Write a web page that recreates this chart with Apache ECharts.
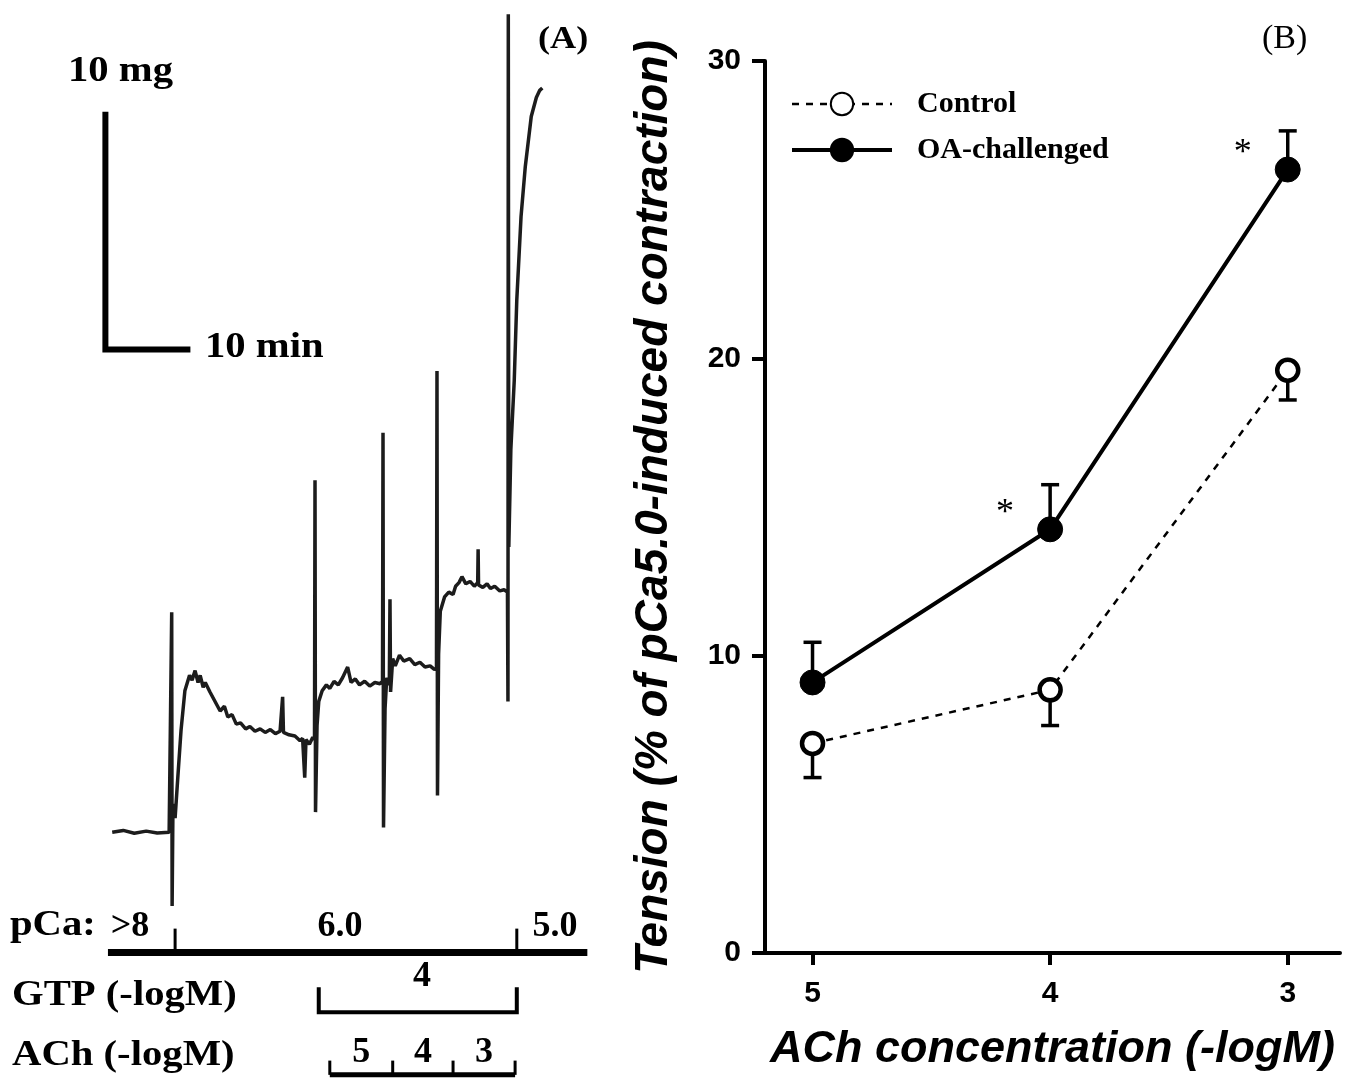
<!DOCTYPE html>
<html>
<head>
<meta charset="utf-8">
<script src="https://cdn.jsdelivr.net/npm/echarts@6.0.0/dist/echarts.min.js"></script>
<style>
html, body { margin: 0; padding: 0; background: #fff; }
#chart { width: 1347px; height: 1082px; }
</style>
</head>
<body>
<div id="chart"></div>
<script>
// ---- panel A : tension trace (min, mg above resting level) ----
const traceTime = [0.2, 1.5, 2.8, 4.2, 5.5, 6.9, 7.2, 7.25, 7.35, 7.6, 7.9, 8.3,
  8.75, 9.3, 9.6, 9.95, 10.3, 10.55, 10.9, 11.15, 11.7, 12.3, 12.9, 13.4,
  13.8, 14.3, 14.8, 15.3, 15.9, 16.4, 17.0, 17.6, 18.2, 18.8, 19.4, 19.95,
  20.25, 20.35, 21.0, 21.7, 22.3, 22.6, 22.85, 23.0, 23.4, 23.8, 24.0, 24.06,
  24.12, 24.3, 24.5, 24.9, 25.4, 25.8, 26.3, 26.8, 27.3, 27.9, 28.3, 28.8,
  29.3, 29.9, 30.5, 31.1, 31.7, 32.0, 32.06, 32.12, 32.3, 32.5, 32.8, 32.88,
  32.95, 33.2, 33.5, 34.0, 34.5, 35.2, 35.8, 36.4, 37.0, 37.6, 38.1, 38.35,
  38.41, 38.47, 38.6, 38.8, 39.3, 39.8, 40.3, 40.6, 41.0, 41.35, 41.8, 42.3,
  42.8, 43.2, 43.25, 43.3, 43.8, 44.3, 44.7, 45.2, 45.8, 46.3, 46.7, 46.76,
  46.8, 46.86, 47.1, 47.5, 47.8, 48.3, 48.8, 49.5, 50.1, 50.5, 50.8];
const traceTension = [0, 0.08, -0.04, 0.05, -0.03, 0, 9.25, -3.1, 1.2, 0.6, 2.2, 4.3,
  5.95, 6.6, 6.4, 6.8, 6.3, 6.6, 6.1, 6.3, 5.9, 5.5, 5.1, 5.3,
  4.85, 4.95, 4.55, 4.6, 4.35, 4.45, 4.25, 4.35, 4.2, 4.32, 4.15, 4.25,
  5.7, 4.2, 4.1, 4.05, 3.85, 3.95, 2.3, 3.9, 3.7, 4.0, 3.9, 14.8,
  0.85, 4.5, 5.5, 5.95, 6.2, 6.05, 6.35, 6.2, 6.5, 6.95, 6.3, 6.45,
  6.2, 6.35, 6.15, 6.3, 6.25, 6.35, 16.8, 0.2, 5.2, 6.5, 6.2, 9.8,
  5.9, 7.3, 7.0, 7.45, 7.2, 7.3, 7.05, 7.15, 6.95, 7.0, 6.85, 6.9,
  19.4, 1.55, 7.5, 9.3, 9.9, 10.1, 10.0, 10.35, 10.5, 10.75, 10.45, 10.55,
  10.35, 10.5, 11.9, 10.4, 10.3, 10.45, 10.25, 10.35, 10.15, 10.2, 10.1, 5.5,
  34.4, 12.0, 16.1, 19.0, 22.4, 25.9, 28.0, 30.1, 30.9, 31.2, 31.3];

// scale bar: corner point and lengths (10 min, 10 mg)
const scaleBarOrigin = [-0.6, 20.3];
const scaleBarSize = [10, 10];

// protocol bars under the trace (times in min, rows in mg units of the same axis)
const rowLevels = [-5.05, -7.57, -10.2];       // pCa, GTP, ACh
const pCaBarSpan = [-0.3, 56.1];
const pCaChangeTimes = [7.6, 47.8];
const pCaLabels = ['>8', '6.0', '5.0'];
const pCaLabelTimes = [2.3, 27.0, 52.3];
const gtpSpan = [24.5, 47.8];
const gtpLabel = '4';
const achAddTimes = [25.8, 33.2, 40.3, 47.6];
const achLabels = ['5', '4', '3'];

// ---- panel B : ACh dose response ----
const achConc = [5, 4, 3];
const controlMean = [7.05, 8.85, 19.6];
const controlSem = [1.15, 1.2, 1.0];
const oaMean = [9.1, 14.25, 26.35];
const oaSem = [1.35, 1.5, 1.3];
const significance = ['', '*', '*'];

const serif = 'Liberation Serif';
const sans = 'Liberation Sans';

var traceData = traceTime.map((t, i) => [t, traceTension[i]]);

var o = scaleBarOrigin;
var protoLines = [
  { coords: [[o[0], o[1] + scaleBarSize[1]], [o[0], o[1]], [o[0] + scaleBarSize[0], o[1]]], lineStyle: { width: 6 } },
  { coords: [[pCaBarSpan[0], rowLevels[0]], [pCaBarSpan[1], rowLevels[0]]], lineStyle: { width: 7 } },
  { coords: [[gtpSpan[0], rowLevels[1] + 1.05], [gtpSpan[0], rowLevels[1]], [gtpSpan[1], rowLevels[1]], [gtpSpan[1], rowLevels[1] + 1.05]], lineStyle: { width: 4 } },
  { coords: [[achAddTimes[0], rowLevels[2]], [achAddTimes[achAddTimes.length - 1], rowLevels[2]]], lineStyle: { width: 5 } }
];
pCaChangeTimes.forEach(t => {
  protoLines.push({ coords: [[t, rowLevels[0]], [t, rowLevels[0] + 1.0]], lineStyle: { width: 3 } });
});
achAddTimes.forEach(t => {
  protoLines.push({ coords: [[t, rowLevels[2]], [t, rowLevels[2] + 0.6]], lineStyle: { width: 3 } });
});

var protoText = pCaLabels.map((s, i) => ({ name: s, value: [pCaLabelTimes[i], rowLevels[0] + 1.1] }));
protoText.push({ name: gtpLabel, value: [(gtpSpan[0] + gtpSpan[1]) / 2 + 0.5, rowLevels[1] + 1.5] });
achLabels.forEach((s, i) => {
  protoText.push({ name: s, value: [(achAddTimes[i] + achAddTimes[i + 1]) / 2, rowLevels[2] + 0.95] });
});

function errorBar(params, api) {
  var x = api.value(0), y = api.value(1), e = api.value(2);
  var p0 = api.coord([x, y]);
  var p1 = api.coord([x, y + e]);
  var st = { stroke: '#000', lineWidth: 3.5 };
  return {
    type: 'group',
    children: [
      { type: 'line', shape: { x1: p0[0], y1: p0[1], x2: p1[0], y2: p1[1] }, style: st },
      { type: 'line', shape: { x1: p1[0] - 9, y1: p1[1], x2: p1[0] + 9, y2: p1[1] }, style: st }
    ]
  };
}

function word(text, x, y, font) {
  return { type: 'text', x: x, y: y, scaleX: 1.13, style: { text: text, font: font, fill: '#000' } };
}

var chart = echarts.init(document.getElementById('chart'));
chart.setOption({
  animation: false,
  backgroundColor: '#fff',
  grid: [
    { left: 0, top: 0, width: 595, height: 1082 },
    { left: 765, top: 61, width: 575, height: 892 }
  ],
  xAxis: [
    { gridIndex: 0, type: 'value', min: -13, max: 57, show: false },
    {
      gridIndex: 1, type: 'value', inverse: true, min: 2.78, max: 5.2,
      axisLine: { show: true, onZero: false, lineStyle: { color: '#000', width: 4 } },
      axisTick: { show: true, customValues: achConc, length: 12, lineStyle: { color: '#000', width: 4 } },
      axisLabel: { customValues: achConc, color: '#000', fontFamily: sans, fontWeight: 'bold', fontSize: 30, margin: 26 },
      splitLine: { show: false },
      name: 'ACh concentration (-logM)', nameLocation: 'middle', nameGap: 74,
      nameTextStyle: { color: '#000', fontFamily: sans, fontWeight: 'bold', fontStyle: 'italic', fontSize: 45 }
    }
  ],
  yAxis: [
    { gridIndex: 0, type: 'value', min: -10.5, max: 35, show: false },
    {
      gridIndex: 1, type: 'value', min: 0, max: 30, interval: 10,
      axisLine: { show: true, lineStyle: { color: '#000', width: 4 } },
      axisTick: { show: true, length: 13, lineStyle: { color: '#000', width: 4 } },
      axisLabel: { color: '#000', fontFamily: sans, fontWeight: 'bold', fontSize: 30, margin: 24 },
      splitLine: { show: false },
      name: 'Tension (% of pCa5.0-induced contraction)', nameLocation: 'middle', nameGap: 88,
      nameTextStyle: { color: '#000', fontFamily: sans, fontWeight: 'bold', fontStyle: 'italic', fontSize: 46 }
    }
  ],
  legend: {
    data: ['Control', 'OA-challenged'],
    orient: 'vertical', left: 785, top: 84,
    itemWidth: 100, itemHeight: 28, itemGap: 16,
    lineStyle: { width: 'inherit' },
    textStyle: { color: '#000', fontFamily: serif, fontWeight: 'bold', fontSize: 30, padding: [0, 0, 0, 20] }
  },
  graphic: [
    word('(A)', 538, 24, 'bold 32px "Liberation Serif"'),
    { type: 'text', left: 1262, top: 22, style: { text: '(B)', font: '34px "Liberation Serif"', fill: '#000' } },
    word('10 mg', 68, 54, 'bold 36px "Liberation Serif"'),
    word('10 min', 205, 330, 'bold 36px "Liberation Serif"'),
    word('pCa:', 10, 908, 'bold 36px "Liberation Serif"'),
    word('GTP (-logM)', 12, 978, 'bold 36px "Liberation Serif"'),
    word('ACh (-logM)', 12, 1038, 'bold 36px "Liberation Serif"')
  ],
  series: [
    {
      type: 'line', xAxisIndex: 0, yAxisIndex: 0, data: traceData,
      showSymbol: false, silent: true,
      lineStyle: { color: '#1c1c1c', width: 3.5 }
    },
    {
      type: 'lines', coordinateSystem: 'cartesian2d', xAxisIndex: 0, yAxisIndex: 0,
      polyline: true, silent: true, data: protoLines,
      lineStyle: { color: '#000', width: 3, opacity: 1 }
    },
    {
      type: 'scatter', xAxisIndex: 0, yAxisIndex: 0, data: protoText, symbolSize: 0, silent: true,
      itemStyle: { opacity: 1 },
      label: { show: true, position: 'inside', formatter: p => p.name, color: '#000', opacity: 1, fontFamily: serif, fontWeight: 'bold', fontSize: 36 }
    },
    {
      name: 'ctrlErr', type: 'custom', xAxisIndex: 1, yAxisIndex: 1, z: 1, silent: true,
      renderItem: errorBar, data: achConc.map((x, i) => [x, controlMean[i], -controlSem[i]])
    },
    {
      name: 'oaErr', type: 'custom', xAxisIndex: 1, yAxisIndex: 1, z: 1, silent: true,
      renderItem: errorBar, data: achConc.map((x, i) => [x, oaMean[i], oaSem[i]])
    },
    {
      name: 'Control', type: 'line', xAxisIndex: 1, yAxisIndex: 1, z: 3,
      data: achConc.map((x, i) => [x, controlMean[i]]),
      symbol: 'circle', symbolSize: 21,
      itemStyle: { color: '#fff', borderColor: '#000', borderWidth: 4.5 },
      lineStyle: { color: '#000', width: 2.5, type: [7, 7] }
    },
    {
      name: 'OA-challenged', type: 'line', xAxisIndex: 1, yAxisIndex: 1, z: 4,
      data: achConc.map((x, i) => [x, oaMean[i]]),
      symbol: 'circle', symbolSize: 25,
      itemStyle: { color: '#000', borderColor: '#000', borderWidth: 1 },
      lineStyle: { color: '#000', width: 4 }
    },
    {
      name: 'sig', type: 'scatter', xAxisIndex: 1, yAxisIndex: 1, z: 5, symbolSize: 0, silent: true,
      itemStyle: { opacity: 1 },
      data: achConc.map((x, i) => [x, oaMean[i]]),
      label: {
        show: true, position: 'inside', offset: [-45, -16],
        formatter: p => significance[p.dataIndex],
        color: '#000', opacity: 1, fontFamily: serif, fontSize: 36
      }
    }
  ]
});
</script>
</body>
</html>
